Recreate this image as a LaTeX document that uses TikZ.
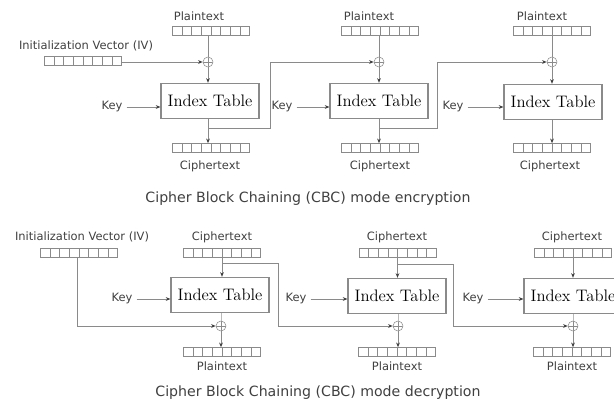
\documentclass[tikz,border=0pt]{standalone}
\usepackage{fontspec}
\newfontfamily\lblfont{DejaVu Sans}
\usepackage{tikz}
\usetikzlibrary{arrows.meta, calc}

\definecolor{linegray}{HTML}{8A8A8A}
\definecolor{txtgray}{HTML}{404040}

\tikzset{
	lbl/.style={font=\lblfont\fontsize{8.6}{10}\selectfont, text=txtgray, inner sep=1pt},
	keylbl/.style={lbl, inner sep=3pt},
	captxt/.style={font=\lblfont\fontsize{10.6}{12}\selectfont, text=txtgray},
	reg/.style={draw=linegray, minimum width=58pt, minimum height=6.75pt, inner sep=0pt},
	cell/.style={linegray, line width=0.4pt},
	tbl/.style={draw=linegray, thick, minimum width=73.5pt, minimum height=26.5pt, inner sep=0pt,
		font=\fontsize{12.5}{14}\selectfont},
	xor/.style={circle, draw=linegray, minimum size=7.5pt, inner sep=0pt,
		path picture={\draw[linegray] (path picture bounding box.north) -- (path picture bounding box.south)
			(path picture bounding box.west) -- (path picture bounding box.east);}},
	wire/.style={linegray, line width=0.6pt},
	arr/.style={wire, -{Stealth[length=3.5pt, width=2.8pt, color=txtgray]}}
}

\begin{document}
\begin{tikzpicture}[x=0.75pt, y=-0.75pt]
	\useasboundingbox[fill=white] (0,0) rectangle (614,403);
	
	%encryption
	\node[lbl] (ivl) at (86,46) {Initialization Vector (IV)};
	\node[reg] (iv) at (83,61) {};
	
	\node[lbl] (pl1) at (199,16) {Plaintext};
	\node[lbl] (pl2) at (369,16) {Plaintext};
	\node[lbl] (pl3) at (542,16) {Plaintext};
	\node[reg] (p1) at (211,30.5) {};
	\node[reg] (p2) at (380,30.5) {};
	\node[reg] (p3) at (552,30.5) {};
	
	\node[xor] (x1) at (208,62) {};
	\node[xor] (x2) at (379,62) {};
	\node[xor] (x3) at (552,62) {};
	
	\node[tbl] (b1) at (210,101) {Index Table};
	\node[tbl] (b2) at (379,101) {Index Table};
	\node[tbl] (b3) at (553,102) {Index Table};
	
	\node[keylbl] (k1) at (112,107) {Key};
	\node[keylbl] (k2) at (282,107) {Key};
	\node[keylbl] (k3) at (453,107) {Key};
	
	\node[reg] (c1) at (211,148) {};
	\node[reg] (c2) at (380,148) {};
	\node[reg] (c3) at (552,148) {};
	\node[lbl] (cl1) at (210,166) {Ciphertext};
	\node[lbl] (cl2) at (380,166) {Ciphertext};
	\node[lbl] (cl3) at (550,166) {Ciphertext};
	
	\node[captxt] (ecap) at (308,199) {Cipher Block Chaining (CBC) mode encryption};
	
	\coordinate (f1) at (208,128);
	\coordinate (f2) at (379,128);
	\coordinate (j1) at (270,62);
	\coordinate (j2) at (437,62);
	
	\draw[arr] (iv.east |- x1) -- (x1);
	\foreach \n in {1,2,3}{
		\draw[wire] (p\n.south -| x\n) -- (x\n);
		\draw[arr] (x\n) -- (x\n |- b\n.north);
		\draw[arr] (k\n) -- (k\n -| b\n.west);
		\draw[arr] (b\n.south -| x\n) -- (x\n |- c\n.north);
	}
	\draw[arr] (f1) -| (j1) -- (x2);
	\draw[arr] (f2) -| (j2) -- (x3);
	
	%decryption
	\node[lbl] (ivdl) at (82,237) {Initialization Vector (IV)};
	\node[reg] (ivd) at (79,253) {};
	
	\node[lbl] (cdl1) at (222,237) {Ciphertext};
	\node[lbl] (cdl2) at (397,237) {Ciphertext};
	\node[lbl] (cdl3) at (572,237) {Ciphertext};
	\node[reg] (cd1) at (222,252.5) {};
	\node[reg] (cd2) at (397.5,252.5) {};
	\node[reg] (cd3) at (573,252.5) {};
	
	\node[tbl] (bd1) at (220,295) {Index Table};
	\node[tbl] (bd2) at (397,296) {Index Table};
	\node[tbl] (bd3) at (573,296) {Index Table};
	
	\node[keylbl] (kd1) at (122,299) {Key};
	\node[keylbl] (kd2) at (296,299) {Key};
	\node[keylbl] (kd3) at (473,299) {Key};
	
	\node[xor] (xd1) at (221,326) {};
	\node[xor] (xd2) at (398,326) {};
	\node[xor] (xd3) at (573,326) {};
	
	\node[reg] (pd1) at (222,352) {};
	\node[reg] (pd2) at (397,352) {};
	\node[reg] (pd3) at (572,352) {};
	\node[lbl] (pdl1) at (222,366) {Plaintext};
	\node[lbl] (pdl2) at (397,366) {Plaintext};
	\node[lbl] (pdl3) at (572,366) {Plaintext};
	
	\node[captxt] (dcap) at (318,393) {Cipher Block Chaining (CBC) mode decryption};
	
	\coordinate (g1) at (222,263);
	\coordinate (g2) at (397,264);
	\coordinate (h1) at (278,326);
	\coordinate (h2) at (453,326);
	
	\draw[arr] (ivd.south -| 77,0) |- (xd1);
	\foreach \n in {1,2,3}{
		\draw[arr] (cd\n.south) -- (cd\n.south |- bd\n.north);
		\draw[arr] (kd\n) -- (kd\n -| bd\n.west);
		\draw[wire, linegray!60] (bd\n.south -| xd\n) -- (xd\n);
		\draw[arr] (xd\n) -- (xd\n |- pd\n.north);
	}
	\draw[arr] (g1) -| (h1) -- (xd2);
	\draw[arr] (g2) -| (h2) -- (xd3);
	
	%register cells
	\foreach \r in {iv,p1,p2,p3,c1,c2,c3,ivd,cd1,cd2,cd3,pd1,pd2,pd3}
		\foreach \i in {1,...,7}
			\draw[cell] ($(\r.south west)!\i/8!(\r.south east)$) -- ($(\r.north west)!\i/8!(\r.north east)$);
\end{tikzpicture}
\end{document}
